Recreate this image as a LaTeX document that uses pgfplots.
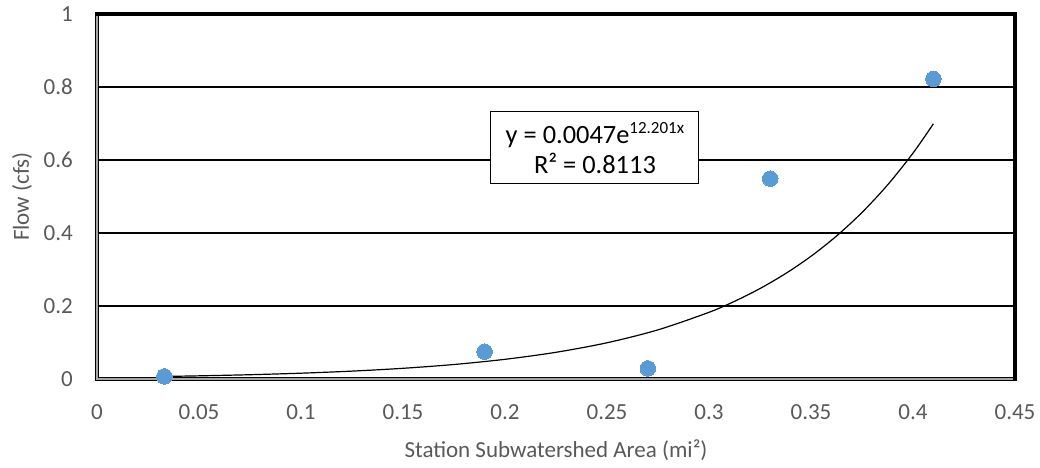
\documentclass[border=0pt]{standalone}
\usepackage{pgfplots}
\pgfplotsset{compat=1.18}
\usepackage{fontspec}
\setmainfont{Carlito}
\definecolor{ticktext}{HTML}{595959}
\definecolor{pointblue}{HTML}{5B9BD5}
\definecolor{framegray}{HTML}{A6A6A6}

\begin{document}
\begin{tikzpicture}
\path[use as bounding box] (0,0) rectangle (1040bp,468bp);
\begin{axis}[
  at={(97bp,89bp)}, anchor=south west,
  scale only axis, width=918bp, height=365bp,
  xmin=0, xmax=0.45, ymin=0, ymax=1,
  scaled ticks=false,
  xtick={0,0.05,0.1,0.15,0.2,0.25,0.3,0.35,0.4,0.45},
  xticklabels={0,0.05,0.1,0.15,0.2,0.25,0.3,0.35,0.4,0.45},
  ytick={0,0.2,0.4,0.6,0.8,1},
  yticklabels={0,0.2,0.4,0.6,0.8,1},
  major tick length=0pt,
  axis line style={draw=none},
  ymajorgrids,
  major grid style={black, line width=1.1bp},
  tick label style={font=\fontsize{23bp}{27bp}\selectfont, text=ticktext, inner sep=0pt},
  xticklabel style={anchor=north, yshift=-25bp},
  yticklabel style={anchor=east, xshift=-24bp},
  xlabel={Station Subwatershed Area (mi²)},
  ylabel={Flow (cfs)},
  label style={font=\fontsize{23bp}{27bp}\selectfont, text=ticktext, inner sep=0pt},
  xlabel style={at={(axis description cs:0.5,-0.2164)}, anchor=base},
  ylabel style={at={(axis description cs:-0.0817,0.5)}, anchor=center},
  clip=false,
]
% measured stations
\addplot[only marks, color=pointblue, mark=*, mark size=7.8bp,
         mark options={fill=pointblue, draw=pointblue, line width=0pt}]
  coordinates {(0.033,0.007) (0.19,0.075) (0.27,0.029) (0.33,0.549) (0.41,0.822)};

% exponential trendline y = 0.0047 e^{12.201x}
\addplot[black, line width=1.2bp, smooth] coordinates {
  (0.033,0.00703) (0.05,0.00865) (0.075,0.01174) (0.1,0.01592)
  (0.125,0.02160) (0.15,0.02930) (0.175,0.03976) (0.2,0.05393)
  (0.225,0.07317) (0.25,0.09927) (0.275,0.13467) (0.3,0.18270)
  (0.3125,0.21280) (0.325,0.24787) (0.3375,0.28870) (0.35,0.33627)
  (0.3625,0.39167) (0.375,0.45624) (0.3875,0.53140) (0.4,0.61890)
  (0.41,0.69920)};

% trendline equation
\node[draw=black, fill=white, line width=1bp, minimum width=208bp, minimum height=72bp,
      align=center, font=\fontsize{26.4bp}{30bp}\selectfont, inner sep=0pt]
  at (axis cs:0.2441,0.633)
  {y = 0.0047e\raisebox{10bp}{\fontsize{17bp}{17bp}\selectfont 12.201x}\\R² = 0.8113};

% plot-area frame
\draw[black, line width=4bp] (rel axis cs:0,1) -- (rel axis cs:0,0) -- (rel axis cs:1,0);
\draw[framegray, line width=1.8bp] (rel axis cs:0,1) -- (rel axis cs:0,0) -- (rel axis cs:1,0);
\draw[black, line width=3.5bp, line cap=rect] (rel axis cs:0,1) -- (rel axis cs:1,1) -- (rel axis cs:1,0);
\end{axis}
\end{tikzpicture}
\end{document}
